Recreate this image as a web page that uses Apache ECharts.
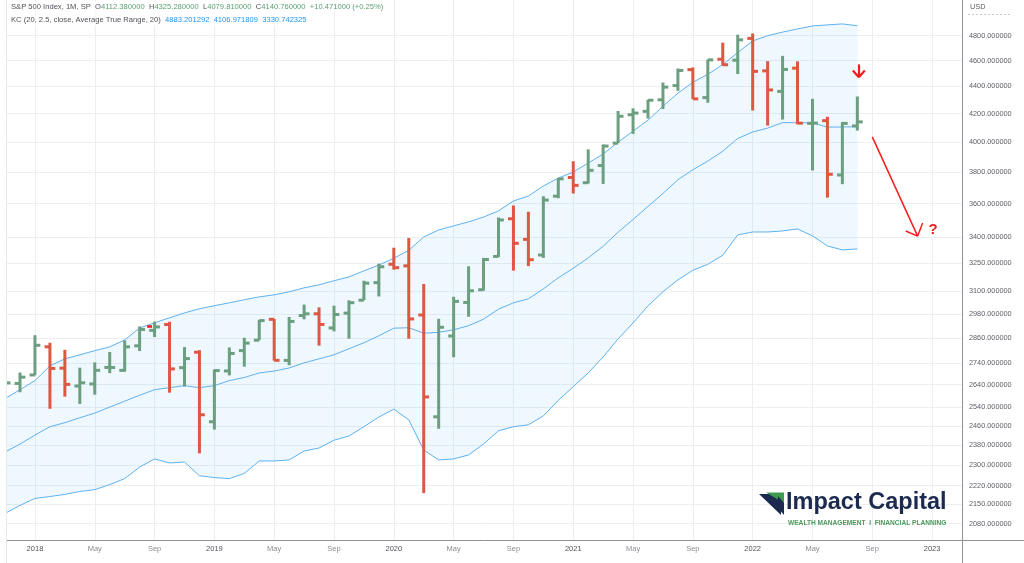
<!DOCTYPE html>
<html>
<head>
<meta charset="utf-8">
<script src="https://cdn.jsdelivr.net/npm/echarts@6/dist/echarts.min.js"></script>
<style>html,body{margin:0;padding:0;background:#fff}#c{width:1024px;height:563px}</style>
</head>
<body>
<div id="c"></div>
<script>
// ---------- data (monthly S&P 500 OHLC) ----------
const months = ['2017-10','2017-11','2017-12',
 '2018-01','2018-02','2018-03','2018-04','2018-05','2018-06','2018-07','2018-08','2018-09','2018-10','2018-11','2018-12',
 '2019-01','2019-02','2019-03','2019-04','2019-05','2019-06','2019-07','2019-08','2019-09','2019-10','2019-11','2019-12',
 '2020-01','2020-02','2020-03','2020-04','2020-05','2020-06','2020-07','2020-08','2020-09','2020-10','2020-11','2020-12',
 '2021-01','2021-02','2021-03','2021-04','2021-05','2021-06','2021-07','2021-08','2021-09','2021-10','2021-11','2021-12',
 '2022-01','2022-02','2022-03','2022-04','2022-05','2022-06','2022-07','2022-08'];

const open = [2521.20, 2583.21, 2645.10,
 2683.73, 2816.45, 2715.22, 2633.45, 2642.96, 2718.70, 2704.95, 2821.17, 2896.96, 2926.29, 2717.58, 2790.50,
 2476.96, 2702.32, 2798.22, 2848.63, 2952.33, 2751.53, 2971.41, 2980.32, 2909.01, 2983.69, 3050.72, 3143.85,
 3244.67, 3235.66, 2974.28, 2498.08, 2869.09, 3038.78, 3105.92, 3288.26, 3507.44, 3385.87, 3296.20, 3645.87,
 3764.61, 3731.17, 3842.51, 3992.78, 4191.98, 4216.52, 4300.73, 4406.86, 4528.80, 4317.16, 4610.62, 4602.82,
 4778.14, 4519.57, 4363.14, 4540.32, 4130.61, 4149.78, 3781.00, 4112.38];
const high = [2582.98, 2657.74, 2694.97,
 2872.87, 2835.96, 2801.90, 2717.49, 2742.24, 2791.47, 2848.03, 2916.50, 2940.91, 2939.86, 2815.15, 2800.18,
 2708.95, 2813.49, 2860.31, 2949.52, 2954.13, 2964.15, 3027.98, 3013.59, 3021.99, 3050.10, 3154.26, 3247.93,
 3337.77, 3393.52, 3136.72, 2954.86, 3068.67, 3233.13, 3279.99, 3514.77, 3588.11, 3549.85, 3645.99, 3760.20,
 3870.90, 3950.43, 3983.87, 4218.78, 4238.04, 4302.43, 4429.97, 4537.36, 4545.85, 4608.08, 4743.83, 4808.93,
 4818.62, 4595.31, 4637.30, 4593.45, 4307.66, 4177.51, 4140.15, 4325.28];
const low = [2520.40, 2557.45, 2605.52,
 2682.36, 2532.69, 2585.89, 2553.80, 2594.62, 2691.99, 2698.95, 2796.34, 2864.12, 2603.54, 2631.09, 2346.58,
 2443.96, 2681.83, 2722.27, 2848.63, 2750.52, 2728.81, 2952.22, 2822.12, 2891.85, 2855.94, 3050.72, 3070.33,
 3214.64, 2855.84, 2191.86, 2447.49, 2766.64, 2965.66, 3101.17, 3284.53, 3209.45, 3233.94, 3279.74, 3633.40,
 3662.71, 3725.62, 3723.34, 3992.78, 4056.88, 4164.40, 4233.13, 4367.73, 4305.91, 4278.94, 4560.00, 4495.12,
 4222.62, 4114.65, 4157.87, 4124.28, 3810.32, 3636.87, 3721.56, 4079.81];
const close = [2575.26, 2647.58, 2673.61,
 2823.81, 2713.83, 2640.87, 2648.05, 2705.27, 2718.37, 2816.29, 2901.52, 2913.98, 2711.74, 2760.17, 2506.85,
 2704.10, 2784.49, 2834.40, 2945.83, 2752.06, 2941.76, 2980.38, 2926.46, 2976.74, 3037.56, 3140.98, 3230.78,
 3225.52, 2954.22, 2584.59, 2912.43, 3044.31, 3100.29, 3271.12, 3500.31, 3363.00, 3269.96, 3621.63, 3756.07,
 3714.24, 3811.15, 3972.89, 4181.17, 4204.11, 4297.50, 4395.26, 4522.68, 4307.54, 4605.38, 4567.00, 4766.18,
 4515.55, 4373.94, 4530.41, 4131.93, 4132.15, 3785.38, 4130.29, 4140.76];

// Keltner Channel (20, 2.5, close, ATR 20)
const kcUpper = [null, 2577, 2617,
 2658, 2726, 2759, 2778, 2798, 2816, 2850, 2909, 2935, 2960, 2985, 3006,
 3022, 3037, 3053, 3068, 3079, 3095, 3116, 3132, 3154, 3175, 3208, 3240,
 3278, 3323, 3400, 3441, 3465, 3489, 3518, 3555, 3616, 3647, 3710, 3761,
 3800, 3859, 3919, 4000, 4076, 4153, 4254, 4350, 4432, 4493, 4568, 4664,
 4757, 4800, 4830, 4856, 4881, 4890, 4898, 4883];
const kcMiddle = [null, 2352, 2384,
 2421, 2456, 2473, 2494, 2514, 2540, 2566, 2592, 2617, 2626, 2635, 2626,
 2635, 2658, 2672, 2693, 2702, 2716, 2740, 2759, 2778, 2807, 2836, 2870,
 2908, 2910, 2883, 2887, 2900, 2920, 2953, 3004, 3037, 3058, 3110, 3170,
 3222, 3280, 3346, 3428, 3503, 3583, 3663, 3750, 3815, 3872, 3938, 4025,
 4070, 4097, 4136, 4135, 4135, 4104, 4105, 4107];
const kcLower = [null, 2117, 2146,
 2172, 2179, 2187, 2198, 2205, 2224, 2247, 2292, 2324, 2308, 2312, 2258,
 2251, 2247, 2267, 2316, 2316, 2320, 2356, 2368, 2400, 2417, 2456, 2497,
 2531, 2485, 2360, 2320, 2324, 2340, 2384, 2439, 2456, 2464, 2502, 2569,
 2631, 2693, 2768, 2855, 2934, 3021, 3095, 3159, 3211, 3244, 3295, 3412,
 3429, 3429, 3435, 3447, 3406, 3348, 3325, 3331];
const kcLegend = ['4883.201292', '4106.971809', '3330.742325'];
const headerChange = [10.471, 0.25];

const yTicks = [2080, 2150, 2220, 2300, 2380, 2460, 2540, 2640, 2740, 2860, 2980, 3100, 3250, 3400, 3600, 3800, 4000, 4200, 4400, 4600, 4800];
const xTickDates = ['2018-01','2018-05','2018-09','2019-01','2019-05','2019-09','2020-01','2020-05','2020-09','2021-01','2021-05','2021-09','2022-01','2022-05','2022-09','2023-01'];
const xTickLabels = ['2018','May','Sep','2019','May','Sep','2020','May','Sep','2021','May','Sep','2022','May','Sep','2023'];

// annotations drawn on the chart: [date, price, date, price, width]
const annoLines = [
 ['2018-08-16', 2918, '2018-08-26', 2918, 2.6],
 ['2022-09-01', 4036, '2022-12-02', 3405, 1.5],
 ['2022-11-08', 3435, '2022-12-02', 3405, 1.5],
 ['2022-12-12', 3482, '2022-12-02', 3405, 1.5],
 ['2022-08-04', 4570, '2022-08-04', 4470, 2.2],
 ['2022-07-22', 4522, '2022-08-04', 4470, 2.2],
 ['2022-08-16', 4522, '2022-08-04', 4470, 2.2]
];
const annoText = [['2023-01-03', 3441, '?']];

// ---------- helpers ----------
const GREEN = '#6b9f7f', RED = '#dc5843', KC = '#5eb1f1', FONT = 'Liberation Sans, Arial, sans-serif';
const mIdx = s => (parseInt(s.slice(0,4)) - 2018) * 12 + parseInt(s.slice(5,7)) - 1 + (s.length > 7 ? (parseInt(s.slice(8,10)) - 1) / 30 : 0);
const xs = months.map(mIdx);
const xTickM = xTickDates.map(mIdx);
const kcPts = arr => arr.map((v, i) => v == null ? null : [xs[i], Math.log(v)]).filter(Boolean);
const kcIdx = kcUpper.map((v, i) => v == null ? -1 : i).filter(i => i >= 0);
const ohlc = months.map((d, i) => [xs[i], Math.log(open[i]), Math.log(high[i]), Math.log(low[i]), Math.log(close[i]), (i === 0 || close[i] >= close[i-1]) ? 1 : 0]);

const last = close.length - 1;
const line1 = `{t|S&P 500 Index, 1M, SP}  {k|O}{v|${open[last].toFixed(6)}}  {k|H}{v|${high[last].toFixed(6)}}  {k|L}{v|${low[last].toFixed(6)}}  {k|C}{v|${close[last].toFixed(6)}}  {v|+${headerChange[0].toFixed(6)} (+${headerChange[1].toFixed(2)}%)}`;
const line2 = `{t|KC (20, 2.5, close, Average True Range, 20)}  {b|${kcLegend[0]}}  {b|${kcLegend[1]}}  {b|${kcLegend[2]}}`;

const chart = echarts.init(document.getElementById('c'));
chart.setOption({
  animation: false,
  backgroundColor: '#ffffff',
  textStyle: { fontFamily: FONT },
  grid: { left: 7, right: 62, top: 0, bottom: 23, containLabel: false },
  xAxis: {
    type: 'value', min: -1.87, max: 62.0,
    axisLine: { show: true, onZero: false, lineStyle: { color: '#8f9299', width: 1 } },
    axisTick: { show: false, customValues: xTickM },
    splitLine: { show: true, lineStyle: { color: '#eceef2', width: 1 } },
    axisLabel: {
      customValues: xTickM, margin: 5, fontSize: 7.5,
      formatter: v => { const i = xTickM.indexOf(Math.round(v)); return i < 0 ? '' : (i % 3 === 0 ? '{y|' + xTickLabels[i] + '}' : '{m|' + xTickLabels[i] + '}'); },
      rich: { y: { color: '#4f5259', fontSize: 7.5 }, m: { color: '#8a8d94', fontSize: 7.5 } }
    }
  },
  yAxis: {
    type: 'value', position: 'right', min: Math.log(2022.6), max: Math.log(5103),
    axisLine: { show: true, onZero: false, lineStyle: { color: '#8f9299', width: 1 } },
    axisTick: { show: false, customValues: yTicks.map(Math.log) },
    splitLine: { show: true, lineStyle: { color: '#eceef2', width: 1 } },
    axisLabel: {
      customValues: yTicks.map(Math.log), margin: 7, fontSize: 7.3, color: '#5d6067',
      formatter: v => Math.round(Math.exp(v)).toFixed(6)
    }
  },
  series: [
    {
      type: 'custom', clip: true, silent: true, z: 1,
      data: kcPts(kcMiddle), encode: { x: 0, y: 1 },
      renderItem: (params, api) => {
        if (params.dataIndex !== 0) return;
        const up = kcIdx.map(i => api.coord([xs[i], Math.log(kcUpper[i])]));
        const lo = kcIdx.map(i => api.coord([xs[i], Math.log(kcLower[i])])).reverse();
        return { type: 'polygon', shape: { points: up.concat(lo) }, style: { fill: 'rgba(33,150,243,0.07)' } };
      }
    },
    { type: 'line', data: kcPts(kcUpper), symbol: 'none', silent: true, lineStyle: { color: KC, width: 1 }, z: 2 },
    { type: 'line', data: kcPts(kcLower), symbol: 'none', silent: true, lineStyle: { color: KC, width: 1 }, z: 2 },
    { type: 'line', data: kcPts(kcMiddle), symbol: 'none', silent: true, lineStyle: { color: KC, width: 1 }, z: 2,
      markLine: {
        silent: true, symbol: ['none', 'none'], label: { show: false },
        lineStyle: { color: '#f31d1d', type: 'solid', width: 1.5 },
        data: annoLines.map(a => [
          { coord: [mIdx(a[0]), Math.log(a[1])], lineStyle: { width: a[4], color: '#f31d1d', type: 'solid' } },
          { coord: [mIdx(a[2]), Math.log(a[3])] }
        ])
      },
      markPoint: {
        silent: true, symbol: 'rect', symbolSize: 1, itemStyle: { color: 'rgba(0,0,0,0)' },
        label: { show: true, position: 'inside', color: '#f31d1d', fontSize: 15, fontWeight: 'bold', fontFamily: FONT, formatter: p => p.name },
        data: annoText.map(a => ({ name: a[2], coord: [mIdx(a[0]), Math.log(a[1])] }))
      }
    },
    {
      type: 'custom', clip: true, z: 3,
      data: ohlc,
      encode: { x: 0, y: [1, 2, 3, 4] },
      renderItem: (params, api) => {
        const x = api.value(0);
        const h = api.coord([x, api.value(2)]);
        const l = api.coord([x, api.value(3)]);
        const o = api.coord([x, api.value(1)]);
        const c = api.coord([x, api.value(4)]);
        const w = api.size([1, 0])[0] * 0.36;
        const st = { stroke: api.value(5) ? GREEN : RED, lineWidth: 3, lineCap: 'butt' };
        return { type: 'group', children: [
          { type: 'line', shape: { x1: h[0], y1: h[1], x2: l[0], y2: l[1] }, style: st },
          { type: 'line', shape: { x1: o[0] - w, y1: o[1], x2: o[0], y2: o[1] }, style: st },
          { type: 'line', shape: { x1: c[0], y1: c[1], x2: c[0] + w, y2: c[1] }, style: st }
        ]};
      }
    }
  ],
  graphic: [
    { type: 'rect', z: 90, silent: true, shape: { x: 9, y: 1, width: 380, height: 12 }, style: { fill: 'rgba(255,255,255,0.75)' } },
    { type: 'rect', z: 90, silent: true, shape: { x: 9, y: 14, width: 308, height: 12 }, style: { fill: 'rgba(255,255,255,0.75)' } },
    { type: 'text', z: 100, x: 11, y: 7, silent: true, style: { text: line1, verticalAlign: 'middle', font: '7.6px ' + FONT,
      rich: { t: { fill: '#4f5259', fontSize: 7.6 }, k: { fill: '#4f5259', fontSize: 7.6 }, v: { fill: '#5a9f70', fontSize: 7.6 } } } },
    { type: 'text', z: 100, x: 11, y: 19.5, silent: true, style: { text: line2, verticalAlign: 'middle', font: '7.6px ' + FONT,
      rich: { t: { fill: '#4f5259', fontSize: 7.6 }, b: { fill: '#2196f3', fontSize: 7.6 } } } },
    { type: 'text', z: 100, x: 970, y: 7, silent: true, style: { text: 'USD', verticalAlign: 'middle', font: '7.3px ' + FONT, fill: '#5d6067' } },
    { type: 'line', z: 100, silent: true, shape: { x1: 968, y1: 14.5, x2: 1012, y2: 14.5 }, style: { stroke: '#c9ccd2', lineWidth: 1, lineDash: [2, 2] } },
    { type: 'line', z: 100, silent: true, shape: { x1: 962, y1: 540.5, x2: 1024, y2: 540.5 }, style: { stroke: '#8f9299', lineWidth: 1 } },
    { type: 'line', z: 100, silent: true, shape: { x1: 962.5, y1: 540, x2: 962.5, y2: 563 }, style: { stroke: '#8f9299', lineWidth: 1 } },
    { type: 'line', z: 100, silent: true, shape: { x1: 6.5, y1: 0, x2: 6.5, y2: 563 }, style: { stroke: '#e6e8ec', lineWidth: 1 } },
    // logo
    { type: 'polygon', z: 100, silent: true, shape: { points: [[759, 494], [781, 494], [781, 515]] }, style: { fill: '#1b2a4e' } },
    { type: 'polygon', z: 100, silent: true, shape: { points: [[766, 492.5], [784, 492.5], [784, 503]] }, style: { fill: '#3d9a4f' } },
    { type: 'polygon', z: 100, silent: true, shape: { points: [[778, 496], [784, 503], [784, 515], [778, 508]] }, style: { fill: '#1b2a4e' } },
    { type: 'text', z: 100, x: 786, y: 503, silent: true, style: { text: 'Impact Capital', verticalAlign: 'middle', font: '600 23.5px ' + FONT, fill: '#1b2a4e' } },
    { type: 'text', z: 100, x: 788, y: 523, silent: true, style: { text: 'WEALTH MANAGEMENT  I  FINANCIAL PLANNING', verticalAlign: 'middle', font: 'bold 6.6px ' + FONT, fill: '#4c9a5b' } }
  ]
});
</script>
</body>
</html>
